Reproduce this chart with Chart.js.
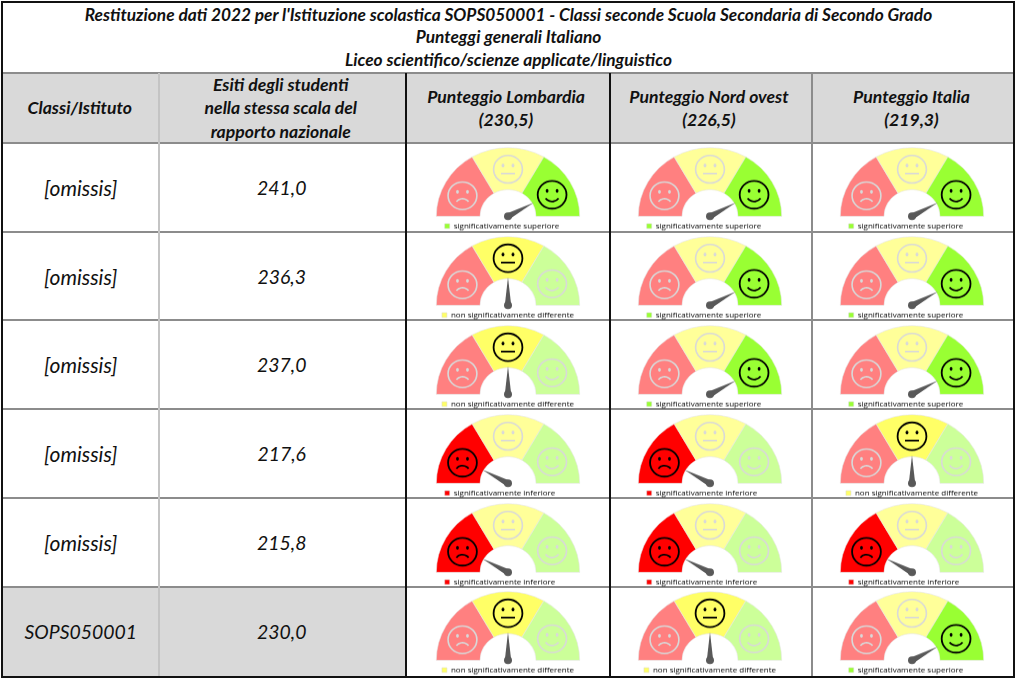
<!DOCTYPE html>
<html lang="it"><head><meta charset="utf-8">
<script src="https://cdn.jsdelivr.net/npm/chart.js@4/dist/chart.umd.min.js"></script>
<style>
html,body{margin:0;padding:0;background:#fff;width:1016px;height:679px;overflow:hidden}
#page{position:absolute;left:0;top:0;width:1016px;height:679px;font-family:Lato,"Open Sans",sans-serif;font-style:italic;color:#111}
.cell{position:absolute;display:flex;align-items:center;justify-content:center;text-align:center;box-sizing:border-box}
.line{position:absolute}
.t{position:absolute;left:3px;width:1011px;text-align:center;font-weight:700;font-size:17.3px;line-height:20px;white-space:nowrap}
.h{font-weight:700;font-size:17.6px;line-height:23.5px}
.b{font-size:21px}
.n{font-size:19.4px}
canvas{position:absolute}
</style></head><body><div id="page"></div>
<script>
// ---- data ----
const titleLines = ["Restituzione dati 2022 per l'Istituzione scolastica SOPS050001 - Classi seconde Scuola Secondaria di Secondo Grado","Punteggi generali Italiano","Liceo scientifico/scienze applicate/linguistico"];
const headers = ["Classi/Istituto","Esiti degli studenti<br>nella stessa scala del<br>rapporto nazionale","Punteggio Lombardia<br>(230,5)","Punteggio Nord ovest<br>(226,5)","Punteggio Italia<br>(219,3)"];
const classes = ["[omissis]","[omissis]","[omissis]","[omissis]","[omissis]","SOPS050001"];
const esiti = ["241,0","236,3","237,0","217,6","215,8","230,0"];
const sectors = [60,60,60];
const legendTexts = ["significativamente inferiore","non significativamente differente","significativamente superiore"];
// 0 inferiore, 1 non differente, 2 superiore
const esitoLombardia = [2,1,1,0,0,1];
const esitoNordOvest = [2,2,2,0,0,1];
const esitoItalia    = [2,2,2,1,0,2];
// needle position in degrees along the half circle (0 = left, 180 = right)
const needleLombardia = [151,90,90,29,29,90];
const needleNordOvest = [151,151,151,29,29,90];
const needleItalia    = [151,151,151,90,29,151];

// ---- styles ----
const activeColors = ['#FF0000','#FFFF66','#99FF33'];
const fadedColors  = ['#FF8080','#FFFF99','#CCFF99'];
const needleColor = '#595959';
const legendShift = [8,0,6];
const rowY = [143,232,320,409,498,587,676];
const colX = [3,158.5,405,609,811,1014];
const centersX = [508,710,912];
const centersY = [216,305,394,483,572,660];
const page = document.getElementById('page');

function addCell(x0,x1,y0,y1,html,cls,bg){
  const d=document.createElement('div');d.className='cell '+cls;
  d.style.cssText=`left:${x0}px;top:${y0}px;width:${x1-x0}px;height:${y1-y0}px;`+(bg?`background:${bg};`:'');
  d.innerHTML=html;page.appendChild(d);
}
function addLine(x,y,w,h,c){
  const d=document.createElement('div');d.className='line';
  d.style.cssText=`left:${x}px;top:${y}px;width:${w}px;height:${h}px;background:${c}`;page.appendChild(d);
}
titleLines.forEach((t,i)=>{const d=document.createElement('div');d.className='t';d.style.top=(5+i*22.3)+'px';d.textContent=t;page.appendChild(d);});
headers.forEach((h,i)=>addCell(colX[i]-1,colX[i+1]-1,73,143,h,'h','#D9D9D9'));
classes.forEach((c,r)=>{
  const bg=r===5?'#D9D9D9':null;
  addCell(colX[0],colX[1],rowY[r],rowY[r+1],c,r===5?'n':'b',bg);
  addCell(colX[1],colX[2],rowY[r],rowY[r+1],esiti[r],'n',bg);
});
// grid lines
[143,232,320,409,498,587].forEach(y=>addLine(3,y-1,1011,1.5,'#8c8c8c'));
addLine(3,72,1011,2,'#8c8c8c');
addLine(158,73,1.5,603,'#c4c4c4');
addLine(405,73,1.5,603,'#111');
addLine(609,73,1.5,603,'#111');
addLine(811,73,1.5,603,'#8c8c8c');
addLine(1,1,1014,2,'#111');addLine(1,676,1014,2,'#111');addLine(1,1,2,677,'#111');addLine(1013,1,2,677,'#111');

const gaugePlugin={
  id:'gauge',
  afterLayout(chart){
    const s=legendShift[chart.options.plugins.gauge.outcome];
    chart.legend.left-=s;chart.legend.right-=s;
    chart.legend.top+=0.5;chart.legend.bottom+=0.5;
  },
  afterDraw(chart){
    const o=chart.options.plugins.gauge, arc=chart.getDatasetMeta(0).data[0];
    const {x:cx,y:cy,outerRadius:R}=arc, ctx=chart.ctx;
    // faces
    const facePos=[[-0.635,-0.30],[0,-0.686],[0.615,-0.314]];
    facePos.forEach((p,i)=>{
      const fx=cx+p[0]*R, fy=cy+p[1]*R, on=i===o.outcome, c=on?'#000':'#D9D9D9';
      ctx.save();ctx.strokeStyle=c;ctx.fillStyle=c;ctx.lineWidth=on?1.8:1.6;
      ctx.beginPath();ctx.arc(fx,fy,14.4,0,Math.PI*2);ctx.stroke();
      [-1,1].forEach(s=>{ctx.beginPath();ctx.ellipse(fx+s*5,fy-4,1.4,2,0,0,Math.PI*2);ctx.fill();});
      ctx.beginPath();
      if(i===1){ctx.moveTo(fx-7,fy+4.5);ctx.lineTo(fx+7,fy+4.5);}
      else if(i===0){ctx.arc(fx,fy+10.5,7.5,Math.PI*1.2,Math.PI*1.8);}
      else{ctx.arc(fx,fy-1,8,Math.PI*0.2,Math.PI*0.8);}
      ctx.stroke();ctx.restore();
    });
    // needle
    const a=Math.PI+o.needle*Math.PI/180, L=R*0.41, ux=Math.cos(a), uy=Math.sin(a);
    ctx.save();ctx.fillStyle=needleColor;
    ctx.beginPath();ctx.moveTo(cx-uy*3.2,cy+ux*3.2);ctx.lineTo(cx+ux*L,cy+uy*L);ctx.lineTo(cx+uy*3.2,cy-ux*3.2);ctx.closePath();ctx.fill();
    ctx.beginPath();ctx.arc(cx,cy,4,0,Math.PI*2);ctx.fill();ctx.restore();
  }
};

function gauge(col,row,outcome,needle){
  const cv=document.createElement('canvas');
  const W=180,H=108;
  cv.width=W;cv.height=H;
  cv.style.cssText=`left:${centersX[col]-W/2}px;top:0;width:${W}px;height:${H}px`;
  page.appendChild(cv);
  const chart=new Chart(cv,{type:'doughnut',plugins:[gaugePlugin],
    data:{labels:legendTexts,datasets:[{data:sectors,
      backgroundColor:sectors.map((_,i)=>i===outcome?activeColors[i]:fadedColors[i]),
      borderColor:'#e6e6e6',borderWidth:0.6}]},
    options:{responsive:false,animation:false,rotation:-90,circumference:180,cutout:'39%',
      layout:{padding:{left:18,right:18,top:12}},
      plugins:{tooltip:{enabled:false},gauge:{outcome,needle},
        legend:{position:'bottom',onClick:null,labels:{boxWidth:5,boxHeight:5,padding:5,color:'#595959',
          font:{family:'"Open Sans"',size:8},
          generateLabels:()=>[{text:legendTexts[outcome],fillStyle:activeColors[outcome],strokeStyle:'#d8d8d8',lineWidth:0.5,hidden:false,index:outcome}]}}}}
  });
  const hubY=chart.getDatasetMeta(0).data[0].y;
  cv.style.top=(centersY[row]-hubY)+'px';
  cv.style.transformOrigin=`50% ${hubY}px`;
  cv.style.transform='scaleY(.958)';
}
[[esitoLombardia,needleLombardia],[esitoNordOvest,needleNordOvest],[esitoItalia,needleItalia]].forEach(([e,n],c)=>{
  e.forEach((v,r)=>gauge(c,r,v,n[r]));
});
</script></body></html>
